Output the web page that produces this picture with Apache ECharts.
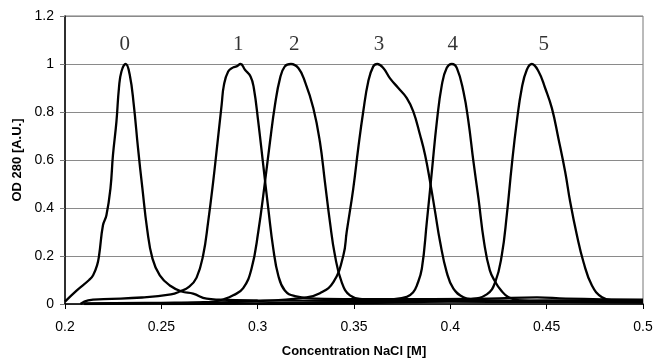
<!DOCTYPE html>
<html>
<head>
<meta charset="utf-8">
<script src="https://cdn.jsdelivr.net/npm/echarts@6/dist/echarts.min.js"></script>
<style>html,body{margin:0;padding:0;background:#fff;}#c{width:655px;height:358px;}</style>
</head>
<body>
<div id="c"></div>
<script>
var xTicks = [0.2, 0.25, 0.3, 0.35, 0.4, 0.45, 0.5];
var yTicks = [0, 0.2, 0.4, 0.6, 0.8, 1, 1.2];

var s0x = [0.2, 0.206, 0.2125, 0.2146, 0.2166, 0.2177, 0.2197, 0.2215, 0.2236, 0.2249, 0.2267, 0.228, 0.2293, 0.2315, 0.2336, 0.2357, 0.2379, 0.2402, 0.2426, 0.2454, 0.2492, 0.2544, 0.2605, 0.2665, 0.2735, 0.28, 0.3, 0.35, 0.4, 0.45, 0.5];
var s0y = [0.01, 0.056, 0.1, 0.12, 0.16, 0.203, 0.328, 0.37, 0.482, 0.621, 0.76, 0.9, 0.969, 1.0, 0.955, 0.83, 0.649, 0.48, 0.314, 0.189, 0.119, 0.077, 0.052, 0.043, 0.022, 0.018, 0.015, 0.013, 0.012, 0.015, 0.012];

var s1x = [0.208, 0.212, 0.22, 0.24, 0.255, 0.2596, 0.2645, 0.2683, 0.2717, 0.2743, 0.2769, 0.2792, 0.2813, 0.2825, 0.2847, 0.2873, 0.289, 0.2911, 0.2934, 0.2963, 0.298, 0.3003, 0.3029, 0.3055, 0.3081, 0.3107, 0.3141, 0.3193, 0.33, 0.35, 0.38, 0.42, 0.445, 0.46, 0.5];
var s1y = [0.0, 0.015, 0.02, 0.027, 0.04, 0.052, 0.072, 0.11, 0.203, 0.342, 0.509, 0.676, 0.83, 0.913, 0.969, 0.986, 0.99, 1.0, 0.976, 0.948, 0.9, 0.76, 0.579, 0.398, 0.231, 0.119, 0.056, 0.033, 0.022, 0.02, 0.02, 0.022, 0.028, 0.022, 0.018];

var s2x = [0.21, 0.25, 0.27, 0.277, 0.2825, 0.2873, 0.2925, 0.2968, 0.3003, 0.3038, 0.3064, 0.309, 0.3116, 0.3141, 0.3173, 0.3211, 0.3245, 0.3289, 0.3323, 0.3349, 0.3375, 0.3401, 0.3436, 0.3479, 0.355, 0.37, 0.4, 0.5];
var s2y = [0.002, 0.005, 0.007, 0.01, 0.02, 0.036, 0.066, 0.147, 0.3, 0.509, 0.676, 0.83, 0.94, 0.99, 1.0, 0.983, 0.927, 0.816, 0.676, 0.509, 0.342, 0.203, 0.091, 0.036, 0.02, 0.012, 0.01, 0.008];

var s3x = [0.21, 0.26, 0.3, 0.3254, 0.3323, 0.3393, 0.3445, 0.3462, 0.3496, 0.3522, 0.3548, 0.3574, 0.36, 0.3621, 0.3652, 0.3687, 0.373, 0.3774, 0.3808, 0.3843, 0.3869, 0.3895, 0.3921, 0.3947, 0.3981, 0.4016, 0.4068, 0.412, 0.43, 0.5];
var s3y = [0.0, 0.004, 0.012, 0.028, 0.045, 0.091, 0.203, 0.3, 0.48, 0.649, 0.802, 0.927, 0.99, 1.0, 0.983, 0.94, 0.9, 0.858, 0.802, 0.704, 0.621, 0.509, 0.384, 0.258, 0.133, 0.064, 0.028, 0.019, 0.012, 0.01];

var s4x = [0.25, 0.3, 0.35, 0.37, 0.3774, 0.3808, 0.3826, 0.3852, 0.3878, 0.3904, 0.393, 0.3956, 0.3981, 0.4008, 0.4034, 0.4068, 0.4094, 0.412, 0.4146, 0.4175, 0.4205, 0.4235, 0.4262, 0.4302, 0.4362, 0.45, 0.5];
var s4y = [0.0, 0.003, 0.01, 0.02, 0.03, 0.05, 0.077, 0.147, 0.342, 0.551, 0.76, 0.913, 0.983, 1.0, 0.983, 0.885, 0.76, 0.593, 0.44, 0.258, 0.14, 0.09, 0.058, 0.028, 0.015, 0.01, 0.006];

var s5x = [0.3, 0.38, 0.41, 0.4189, 0.4233, 0.4267, 0.4293, 0.4319, 0.4345, 0.4371, 0.4397, 0.4423, 0.4458, 0.4492, 0.4527, 0.4561, 0.4596, 0.4622, 0.4657, 0.4691, 0.4735, 0.4787, 0.4847, 0.5];
var s5y = [0.0, 0.008, 0.02, 0.04, 0.091, 0.203, 0.37, 0.579, 0.76, 0.9, 0.976, 1.0, 0.969, 0.9, 0.816, 0.69, 0.551, 0.426, 0.286, 0.175, 0.077, 0.028, 0.015, 0.012];

var peakNames = ['0', '1', '2', '3', '4', '5'];
var peakLabelX = [0.231, 0.2899, 0.319, 0.363, 0.4013, 0.4485];
var peakLabelY = [1, 1, 1, 1, 1, 1];

var allX = [s0x, s1x, s2x, s3x, s4x, s5x];
var allY = [s0y, s1y, s2y, s3y, s4y, s5y];

function pairs(xs, ys) { return xs.map(function (v, i) { return [v, ys[i]]; }); }

var series = allX.map(function (xs, k) {
  return {
    type: 'line', data: pairs(xs, allY[k]), showSymbol: false, symbol: 'none',
    smooth: 0.45,
    lineStyle: { color: '#000', width: 2.3 }, z: 3, silent: true
  };
});
series.push({
  type: 'scatter', symbolSize: 0, silent: true,
  data: peakLabelX.map(function (x, i) { return { value: [x, peakLabelY[i]], name: peakNames[i] }; }),
  label: { show: true, position: 'top', distance: 9, formatter: '{b}',
    fontFamily: '"Liberation Serif", "Times New Roman", serif', fontSize: 21, color: '#000' }
});

var chart = echarts.init(document.getElementById('c'), null, { renderer: 'canvas' });
chart.setOption({
  animation: false,
  backgroundColor: '#fff',
  grid: { left: 65, right: 12, top: 16, bottom: 54, show: true, borderColor: '#777', borderWidth: 1,
    containLabel: false, outerBoundsMode: 'none' },
  xAxis: {
    type: 'value', min: xTicks[0], max: xTicks[xTicks.length - 1], interval: 0.05,
    name: 'Concentration NaCl [M]', nameLocation: 'middle', nameGap: 41,
    nameTextStyle: { fontFamily: '"Liberation Sans", Arial, sans-serif', fontWeight: 'bold', fontSize: 13, color: '#000' },
    axisLine: { show: true, onZero: false, lineStyle: { color: '#000', width: 1.5 } },
    axisTick: { show: true, inside: false, length: 5, lineStyle: { color: '#000' } },
    axisLabel: { margin: 16, fontFamily: '"Liberation Sans", Arial, sans-serif', fontSize: 14, color: '#000',
      formatter: function (v) { return String(Math.round(v * 100) / 100); } },
    splitLine: { show: false }
  },
  yAxis: {
    type: 'value', min: yTicks[0], max: yTicks[yTicks.length - 1], interval: 0.2,
    name: 'OD 280 [A.U.]', nameLocation: 'middle', nameGap: 40,
    nameTextStyle: { fontFamily: '"Liberation Sans", Arial, sans-serif', fontWeight: 'bold', fontSize: 13, color: '#000' },
    axisLine: { show: true, lineStyle: { color: '#000', width: 1.5 } },
    axisTick: { show: true, inside: false, length: 5, lineStyle: { color: '#777' } },
    axisLabel: { margin: 11, fontFamily: '"Liberation Sans", Arial, sans-serif', fontSize: 14, color: '#000',
      formatter: function (v) { return String(Math.round(v * 10) / 10); } },
    splitLine: { show: true, lineStyle: { color: '#8a8a8a', width: 1 } }
  },
  series: series
});
</script>
</body>
</html>
